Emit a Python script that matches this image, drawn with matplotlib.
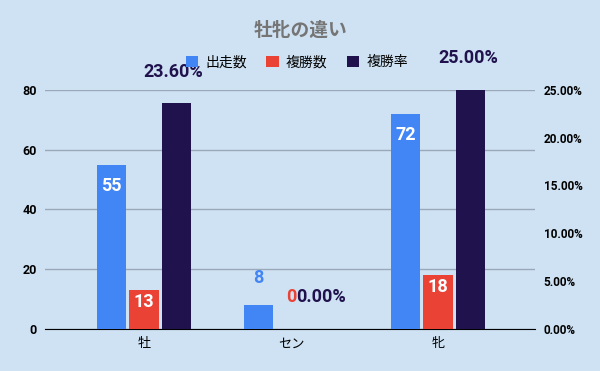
import matplotlib.pyplot as plt
import numpy as np
from matplotlib.ticker import FuncFormatter

plt.rcParams['font.family'] = ['Roboto', 'Noto Sans CJK JP', 'DejaVu Sans']

categories = ['牡', 'セン', '牝']
runs = [55, 8, 72]
places = [13, 0, 18]
place_rate = [23.60, 0.00, 25.00]

bg = '#cfe2f3'
c_blue = '#4285f4'
c_red = '#ea4335'
c_navy = '#20124d'

fig = plt.figure(figsize=(6, 3.71), dpi=100, facecolor=bg)
ax = fig.add_axes([0.075, 0.113, 0.817, 0.645], facecolor=bg)
ax2 = ax.twinx()

x = np.arange(len(categories))
w = 0.2
off = 0.222

b1 = ax.bar(x - off, runs, w, color=c_blue, label='出走数', zorder=3)
b2 = ax.bar(x, places, w, color=c_red, label='複勝数', zorder=3)
b3 = ax2.bar(x + off, place_rate, w, color=c_navy, label='複勝率', zorder=3)

ax.set_ylim(0, 80)
ax2.set_ylim(0, 25)
ax.set_xlim(-0.673, 2.66)
ax.set_yticks([0, 20, 40, 60, 80])
ax2.set_yticks([0, 5, 10, 15, 20, 25])
ax2.yaxis.set_major_formatter(FuncFormatter(lambda v, p: f'{v:.2f}%'))

ax.grid(axis='y', color='#9aa9b8', lw=1, zorder=0)
for s in ['top', 'right', 'left']:
    ax.spines[s].set_visible(False)
    ax2.spines[s].set_visible(False)
ax.spines['bottom'].set_color('black')
ax2.spines['bottom'].set_visible(False)
ax.tick_params(axis='both', length=0, pad=6)
ax2.tick_params(axis='y', length=0, pad=6)
for lbl in ax.get_yticklabels():
    lbl.set_fontweight('bold')
    lbl.set_fontsize(9)
for lbl in ax2.get_yticklabels():
    lbl.set_fontweight('bold')
    lbl.set_fontsize(8.5)
ax.set_xticks(x)
ax.set_xticklabels(categories, fontsize=9.5)

# data labels
for xi, v in zip(x, runs):
    if v > 20:
        ax.text(xi - off, v - 4, str(v), ha='center', va='top', color='white',
                fontsize=13, fontweight='bold', zorder=4)
    else:
        ax.text(xi - off, v + 6, str(v), ha='center', va='bottom', color=c_blue,
                fontsize=13, fontweight='bold', zorder=4)
for xi, v in zip(x, places):
    if v > 5:
        ax.text(xi, v - 4, str(v), ha='center', va='center', color='white',
                fontsize=13, fontweight='bold', zorder=4)
    else:
        ax.text(xi, v + 10.7, str(v), ha='center', va='center', color=c_red,
                fontsize=13, fontweight='bold', zorder=4)
for xi, v in zip(x, place_rate):
    ax2.text(xi + off - 0.02, v + 3.3, f'{v:.2f}%', ha='center', va='center',
             color=c_navy, fontsize=13, fontweight='bold', zorder=4)

fig.text(0.5, 0.918, '牡牝の違い', ha='center', va='center', fontsize=13.5,
         fontweight='bold', color='#757575')
h = [b1, b2, b3]
fig.legend(h, [b.get_label() for b in h], loc='center', bbox_to_anchor=(0.495, 0.832),
           ncol=3, frameon=False, fontsize=10, handlelength=0.9, handleheight=0.9,
           handletextpad=0.5, columnspacing=1.4)

plt.savefig('out.png', dpi=100, facecolor=bg)
